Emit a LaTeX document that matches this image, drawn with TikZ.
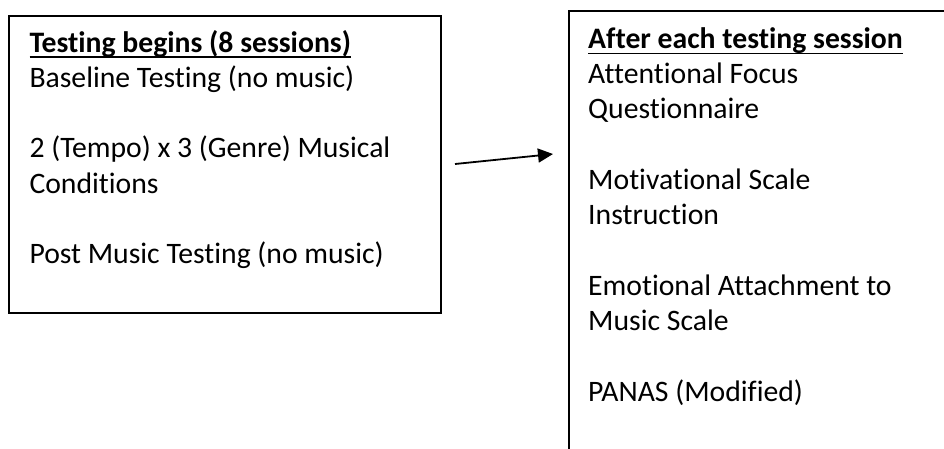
\documentclass[tikz,border=0pt]{standalone}
\usepackage{fontspec}
\setmainfont{Carlito}[Ligatures={NoCommon}]
\usetikzlibrary{arrows.meta}
% heading underline drawn as a rule just below the baseline
\newcommand\headul[1]{\setbox0\hbox{\bfseries #1}\rlap{\rule[-6pt]{\wd0}{1.8pt}}\box0}
\begin{document}
\begin{tikzpicture}[x=1pt,y=-1pt,
  framebox/.style={draw=black,line width=2pt,rectangle,inner sep=0pt,anchor=north west},
  boxtext/.style={anchor=base west,inner sep=0pt,font=\fontsize{29.7}{35.3}\selectfont},
  flow/.style={line width=1.8pt,-{Triangle[length=15pt,width=14pt]}}]
\useasboundingbox (0,0) rectangle (944,448);
\clip (0,0) rectangle (944,448);

% session box
\node[framebox,minimum width=431.2pt,minimum height=297pt] (beginbox) at (8.3,15) {};
\node[boxtext] (begintext) at (29.3,52) {\begin{tabular}[t]{@{}l@{}}
\headul{Testing begins (8 sessions)}\\
Baseline Testing (no music)\\
\\
2 (Tempo) x 3 (Genre) Musical\\
Conditions\\
\\
Post Music Testing (no music)
\end{tabular}};

% follow-up box, running past the right and bottom edges
\node[framebox,minimum width=420pt,minimum height=480pt] (afterbox) at (567.7,10.3) {};
\node[boxtext] (aftertext) at (588,48.3) {\begin{tabular}[t]{@{}l@{}}
\headul{After each testing session}\\
Attentional Focus\\
Questionnaire\\
\\
Motivational Scale\\
Instruction\\
\\
Emotional Attachment to\\
Music Scale\\
\\
PANAS (Modified)
\end{tabular}};

% connector between the two boxes
\coordinate (flowstart) at (455,164);
\coordinate (flowend) at (553,154);
\draw[flow] (flowstart) -- (flowend);
\end{tikzpicture}
\end{document}
